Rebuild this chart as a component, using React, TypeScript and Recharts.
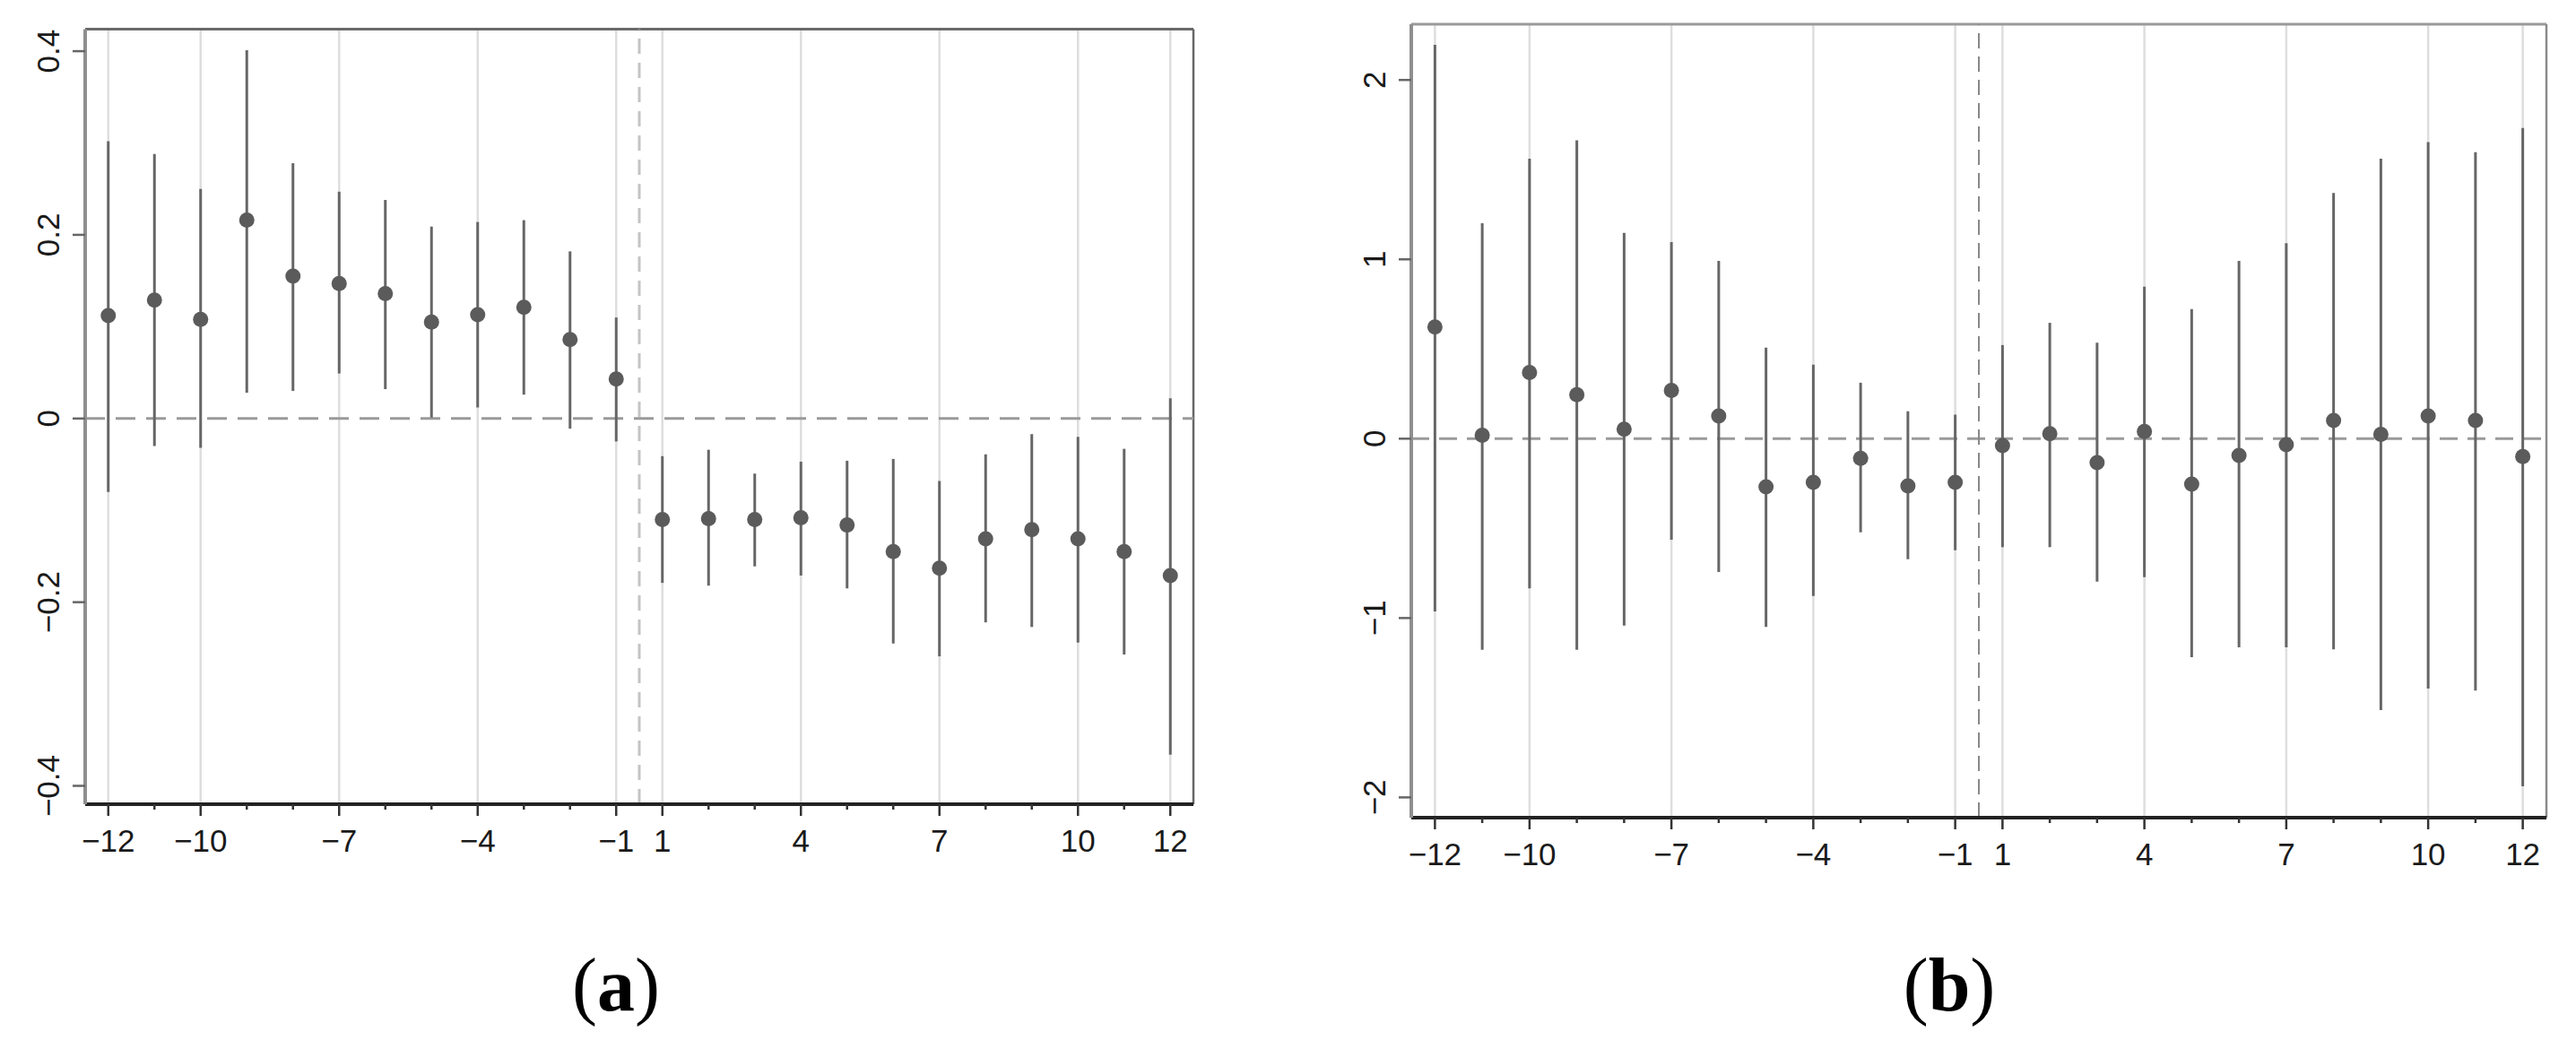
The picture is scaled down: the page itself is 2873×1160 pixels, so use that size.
import React from 'react';
import {
  ScatterChart,
  Scatter,
  XAxis,
  YAxis,
  ErrorBar,
  ReferenceLine,
  CartesianGrid,
} from 'recharts';

// Event-time periods (no period 0)
const periods = [-12, -11, -10, -9, -8, -7, -6, -5, -4, -3, -2, -1, 1, 2, 3, 4, 5, 6, 7, 8, 9, 10, 11, 12];
const labelledPeriods = [-12, -10, -7, -4, -1, 1, 4, 7, 10, 12];

// Panel (a)
const estA = [0.112, 0.129, 0.108, 0.216, 0.155, 0.147, 0.136, 0.105, 0.113, 0.121, 0.086, 0.043,
  -0.110, -0.109, -0.110, -0.108, -0.116, -0.145, -0.163, -0.131, -0.121, -0.131, -0.145, -0.171];
const lowA = [-0.080, -0.030, -0.032, 0.028, 0.030, 0.049, 0.032, 0.001, 0.012, 0.026, -0.011, -0.025,
  -0.179, -0.182, -0.161, -0.171, -0.185, -0.245, -0.259, -0.222, -0.227, -0.244, -0.257, -0.366];
const highA = [0.302, 0.288, 0.250, 0.401, 0.278, 0.247, 0.238, 0.209, 0.214, 0.216, 0.182, 0.110,
  -0.041, -0.034, -0.060, -0.047, -0.046, -0.044, -0.068, -0.039, -0.017, -0.020, -0.033, 0.022];
const yTicksA = [-0.4, -0.2, 0, 0.2, 0.4];
const yDomainA = [-0.42, 0.424];

// Panel (b)
const estB = [0.623, 0.019, 0.369, 0.245, 0.053, 0.269, 0.126, -0.268, -0.243, -0.110, -0.263, -0.243,
  -0.039, 0.028, -0.134, 0.040, -0.253, -0.094, -0.033, 0.101, 0.024, 0.126, 0.101, -0.100];
const lowB = [-0.963, -1.177, -0.835, -1.177, -1.042, -0.563, -0.743, -1.050, -0.877, -0.522, -0.672, -0.622,
  -0.605, -0.605, -0.797, -0.772, -1.218, -1.163, -1.163, -1.175, -1.513, -1.393, -1.405, -1.938];
const highB = [2.196, 1.201, 1.561, 1.664, 1.148, 1.096, 0.991, 0.508, 0.413, 0.312, 0.153, 0.134,
  0.522, 0.646, 0.535, 0.847, 0.723, 0.991, 1.090, 1.370, 1.561, 1.654, 1.597, 1.733];
const yTicksB = [-2, -1, 0, 1, 2];
const yDomainB = [-2.113, 2.311];

const captions = ['a', 'b'];

const FONT = '"Liberation Sans", Arial, sans-serif';
const FS = 35;
const xIndexes = periods.map((_, i) => i);
const labelledIdx = periods.map((p, i) => (labelledPeriods.includes(p) ? i : -1)).filter((i) => i >= 0);
const breakIdx = periods.indexOf(-1) + 0.5;

const fmt = (v: number) => (v < 0 ? '\u2212' + String(Math.abs(v)) : String(v));

const buildRows = (est: number[], low: number[], high: number[]) =>
  est.map((v, i) => ({ idx: i, est: v, err: [v - low[i], high[i] - v] }));

const rowsA = buildRows(estA, lowA, highA);
const rowsB = buildRows(estB, lowB, highB);

const renderXTick = (props: any) => {
  const { x, y, payload } = props;
  const p = periods[payload.value];
  const major = labelledPeriods.includes(p);
  return (
    <g>
      <line x1={x} x2={x} y1={y} y2={y + (major ? 13 : 6)} stroke="#333" strokeWidth={2.5} />
      {major && (
        <text x={x} y={y + 40} textAnchor="middle" dominantBaseline="central" fontSize={FS} fontFamily={FONT} fill="#1a1a1a">
          {fmt(p)}
        </text>
      )}
    </g>
  );
};

const renderYTick = (props: any) => {
  const { x, y, payload } = props;
  const cx = x - 41;
  return (
    <g>
      <line x1={x - 14} x2={x} y1={y} y2={y} stroke="#666" strokeWidth={2.5} />
      <text transform={`rotate(-90 ${cx} ${y})`} x={cx} y={y} textAnchor="middle" dominantBaseline="central" fontSize={FS} fontFamily={FONT} fill="#1a1a1a">
        {fmt(payload.value)}
      </text>
    </g>
  );
};

const dot = (props: any) => <circle cx={props.cx} cy={props.cy} r={8.5} fill="#5b5b5b" />;

const gridGen = ({ xAxis, offset }: any) =>
  labelledIdx.map((i) =>
    xAxis && typeof xAxis.scale === 'function'
      ? xAxis.scale(i)
      : offset.left + ((i + 0.5) / periods.length) * offset.width
  );

type PanelProps = {
  rows: any[];
  yTicks: number[];
  yDomain: number[];
  width: number;
  height: number;
  margin: any;
  yAxisWidth: number;
  xAxisHeight: number;
  topColor: string;
  rightColor: string;
  vDash: { stroke: string; width: number; dash: string };
  hDash: string;
};

const Panel = ({ rows, yTicks, yDomain, width, height, margin, yAxisWidth, xAxisHeight, topColor, rightColor, vDash, hDash }: PanelProps) => (
  <ScatterChart width={width} height={height} margin={margin}>
    <CartesianGrid horizontal={false} vertical={true} stroke="#dedede" strokeWidth={2.5} verticalCoordinatesGenerator={gridGen} />
    <XAxis
      type="number"
      dataKey="idx"
      domain={[-0.5, periods.length - 0.5]}
      ticks={xIndexes}
      interval={0}
      allowDataOverflow
      tickSize={0}
      tickMargin={0}
      tickLine={false}
      tick={renderXTick}
      height={xAxisHeight}
      axisLine={{ stroke: '#222', strokeWidth: 4 }}
    />
    <YAxis
      type="number"
      dataKey="est"
      domain={yDomain}
      ticks={yTicks}
      interval={0}
      allowDataOverflow
      tickSize={0}
      tickMargin={0}
      tickLine={false}
      tick={renderYTick}
      width={yAxisWidth}
      axisLine={{ stroke: '#8f8f8f', strokeWidth: 4 }}
    />
    <ReferenceLine y={yDomain[1]} stroke={topColor} strokeWidth={3} />
    <ReferenceLine x={periods.length - 0.5} stroke={rightColor} strokeWidth={2.5} />
    <ReferenceLine y={0} stroke="#9a9a9a" strokeWidth={3} strokeDasharray={hDash} />
    <ReferenceLine x={breakIdx} stroke={vDash.stroke} strokeWidth={vDash.width} strokeDasharray={vDash.dash} />
    <Scatter data={rows} dataKey="est" isAnimationActive={false} shape={dot}>
      <ErrorBar dataKey="err" direction="y" width={0} stroke="#666" strokeWidth={3} isAnimationActive={false} />
    </Scatter>
  </ScatterChart>
);

const Caption = ({ letter, cx }: { letter: string; cx: number }) => (
  <div
    style={{
      position: 'absolute',
      left: cx - 150,
      top: 1057,
      width: 300,
      textAlign: 'center',
      fontFamily: '"Liberation Serif", "Times New Roman", serif',
      fontSize: 84,
      lineHeight: '84px',
      color: '#000',
    }}
  >
    (<b>{letter}</b>)
  </div>
);

export default function App() {
  return (
    <div style={{ position: 'absolute', left: 0, top: 0, width: 2873, height: 1160, background: '#fff', overflow: 'hidden' }}>
      <div style={{ position: 'absolute', left: 0, top: 0 }}>
        <Panel
          rows={rowsA}
          yTicks={yTicksA}
          yDomain={yDomainA}
          width={1400}
          height={1000}
          margin={{ top: 32.5, right: 69, bottom: 0, left: 0 }}
          yAxisWidth={95}
          xAxisHeight={103}
          topColor="#6a6a6a"
          rightColor="#666"
          vDash={{ stroke: '#c4c4c4', width: 3, dash: '17 10' }}
          hDash="22 12"
        />
      </div>
      <div style={{ position: 'absolute', left: 1440, top: 0 }}>
        <Panel
          rows={rowsB}
          yTicks={yTicksB}
          yDomain={yDomainB}
          width={1433}
          height={1000}
          margin={{ top: 27, right: 33, bottom: 0, left: 0 }}
          yAxisWidth={134}
          xAxisHeight={88}
          topColor="#9a9a9a"
          rightColor="#8a8a8a"
          vDash={{ stroke: '#888', width: 2, dash: '17 9' }}
          hDash="20 11"
        />
      </div>
      <Caption letter={captions[0]} cx={687} />
      <Caption letter={captions[1]} cx={2174} />
    </div>
  );
}
